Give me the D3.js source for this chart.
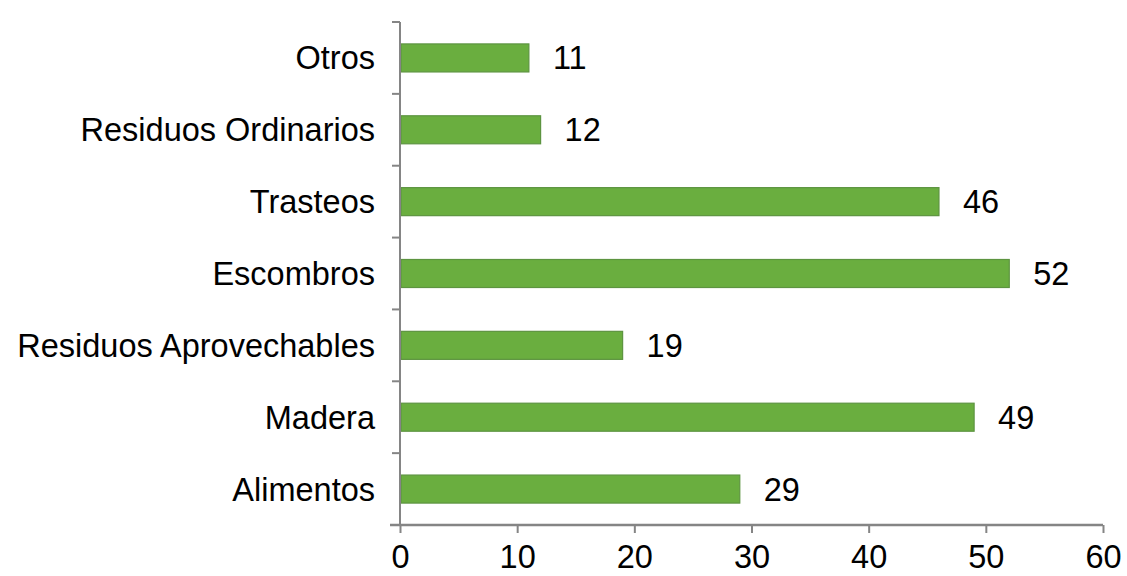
<!DOCTYPE html>
<html><head><meta charset="utf-8">
<script src="https://cdn.jsdelivr.net/npm/d3@7"></script>
<style>body{margin:0;background:#fff}svg{display:block}</style>
</head><body>
<script>
const categories = ["Otros","Residuos Ordinarios","Trasteos","Escombros","Residuos Aprovechables","Madera","Alimentos"];
const values = [11,12,46,52,19,49,29];
const xTicks = [0,10,20,30,40,50,60];

const W=1127,H=576;
const svg=d3.select("body").append("svg").attr("width",W).attr("height",H);
const x=d3.scaleLinear().domain([0,60]).range([400,1103]);
const y=d3.scaleBand().domain(categories).range([22,525]).paddingInner(0.61).paddingOuter(0.305);
const font="Liberation Sans, Arial, sans-serif";
const fs=32.5;

// bars
svg.selectAll("rect.bar").data(categories).enter().append("rect")
  .attr("x",x(0)+1).attr("y",d=>y(d))
  .attr("width",(d,i)=>x(values[i])-x(0)-1).attr("height",y.bandwidth())
  .attr("fill","#6aae3f").attr("stroke","#5d9440").attr("stroke-width",1.2);

// value labels
svg.selectAll("text.val").data(categories).enter().append("text")
  .attr("x",(d,i)=>x(values[i])+24).attr("y",d=>y(d)+y.bandwidth()/2+11.5)
  .attr("font-family",font).attr("font-size",fs).attr("fill","#000")
  .text((d,i)=>values[i]);

// category labels
svg.selectAll("text.cat").data(categories).enter().append("text")
  .attr("x",375).attr("y",d=>y(d)+y.bandwidth()/2+11.5)
  .attr("text-anchor","end")
  .attr("font-family",font).attr("font-size",fs).attr("fill","#000")
  .text(d=>d);

// y axis line and separator ticks
const axisColor="#858585";
svg.append("line").attr("x1",x(0)).attr("x2",x(0)).attr("y1",22).attr("y2",525)
  .attr("stroke",axisColor).attr("stroke-width",2);
const step=y.step();
const seps=d3.range(1,categories.length).map(i=>y(categories[i])-(step-y.bandwidth())/2);
svg.selectAll("line.sep").data(seps.concat([22])).enter().append("line")
  .attr("x1",x(0)-8).attr("x2",x(0)).attr("y1",d=>d).attr("y2",d=>d)
  .attr("stroke",axisColor).attr("stroke-width",2);

// x axis
const xa=svg.append("g").attr("transform","translate(0,525)")
  .call(d3.axisBottom(x).tickValues(xTicks).tickSize(8).tickSizeOuter(0));
xa.select(".domain").attr("stroke",axisColor).attr("stroke-width",2.5).attr("d",`M${x(0)-10},0H${x(60)}`);
xa.selectAll(".tick line").attr("stroke",axisColor).attr("stroke-width",2);
xa.selectAll(".tick text").attr("font-family",font).attr("font-size",fs).attr("fill","#000")
  .attr("y",43).attr("dy",null);
</script>
</body></html>
